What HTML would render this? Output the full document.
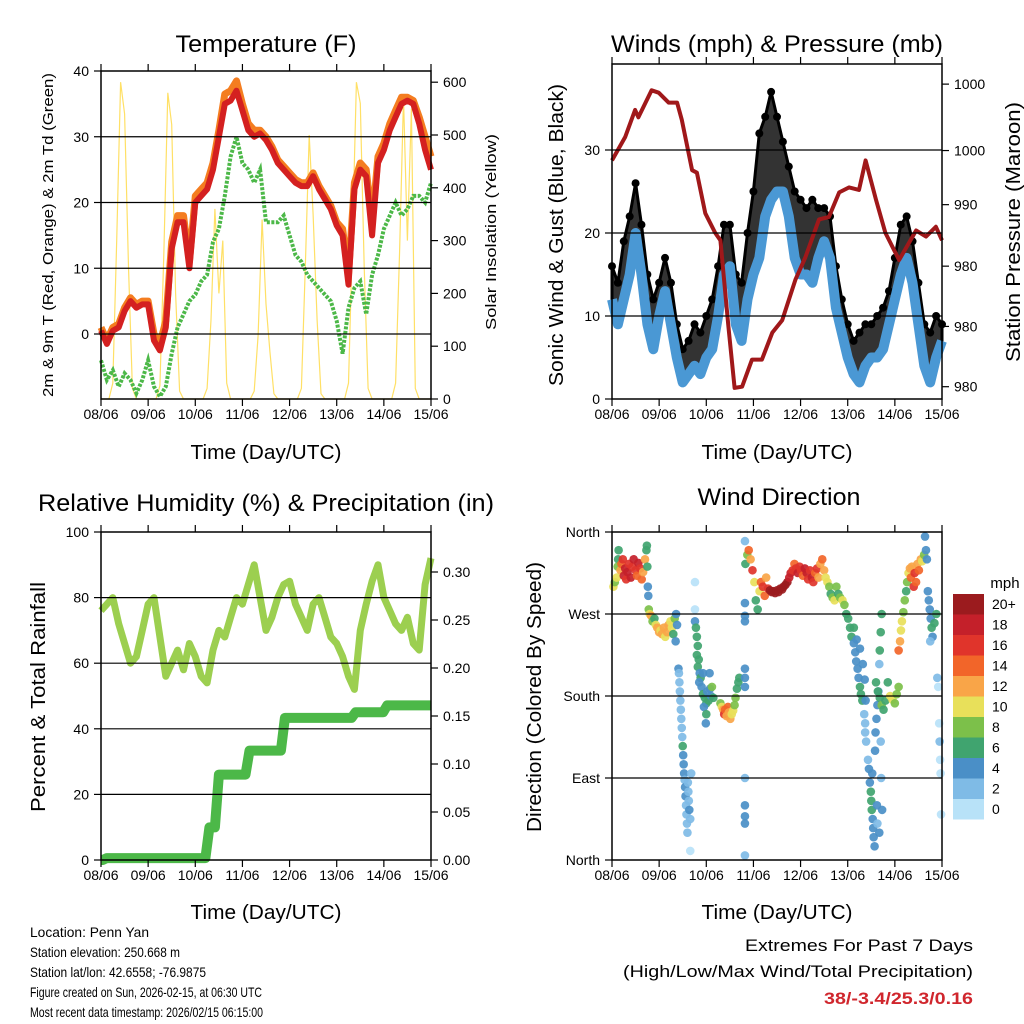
<!DOCTYPE html>
<html><head><meta charset="utf-8"><style>
html,body{margin:0;padding:0;background:#fff}
svg{display:block;font-family:"Liberation Sans",sans-serif}
</style></head><body>
<svg id="fig" width="1024" height="1024" viewBox="0 0 1024 1024" xmlns="http://www.w3.org/2000/svg">
<rect x="0" y="0" width="1024" height="1024" fill="#fff"/>
<g id="marks"></g>
<g id="frames"></g>
<text x="266" y="52" text-anchor="middle" font-size="24" textLength="181" lengthAdjust="spacingAndGlyphs">Temperature (F)</text>
<text x="777" y="52" text-anchor="middle" font-size="24" textLength="332" lengthAdjust="spacingAndGlyphs">Winds (mph) &amp; Pressure (mb)</text>
<text x="266" y="511" text-anchor="middle" font-size="24" textLength="456" lengthAdjust="spacingAndGlyphs">Relative Humidity (%) &amp; Precipitation (in)</text>
<text x="779" y="505" text-anchor="middle" font-size="24" textLength="163" lengthAdjust="spacingAndGlyphs">Wind Direction</text>
<text x="266" y="459" text-anchor="middle" font-size="20" textLength="151" lengthAdjust="spacingAndGlyphs">Time (Day/UTC)</text>
<text x="777" y="459" text-anchor="middle" font-size="20" textLength="151" lengthAdjust="spacingAndGlyphs">Time (Day/UTC)</text>
<text x="266" y="919" text-anchor="middle" font-size="20" textLength="151" lengthAdjust="spacingAndGlyphs">Time (Day/UTC)</text>
<text x="777" y="919" text-anchor="middle" font-size="20" textLength="151" lengthAdjust="spacingAndGlyphs">Time (Day/UTC)</text>
<text transform="translate(53,235) rotate(-90)" text-anchor="middle" font-size="15" textLength="324" lengthAdjust="spacingAndGlyphs">2m &amp; 9m T (Red, Orange) &amp; 2m Td (Green)</text>
<text transform="translate(496,232) rotate(-90)" text-anchor="middle" font-size="15" textLength="196" lengthAdjust="spacingAndGlyphs">Solar Insolation (Yellow)</text>
<text transform="translate(563,235) rotate(-90)" text-anchor="middle" font-size="20" textLength="302" lengthAdjust="spacingAndGlyphs">Sonic Wind &amp; Gust (Blue, Black)</text>
<text transform="translate(1020,232) rotate(-90)" text-anchor="middle" font-size="20" textLength="260" lengthAdjust="spacingAndGlyphs">Station Pressure (Maroon)</text>
<text transform="translate(45,697) rotate(-90)" text-anchor="middle" font-size="20" textLength="230" lengthAdjust="spacingAndGlyphs">Percent &amp; Total Rainfall</text>
<text transform="translate(541,697) rotate(-90)" text-anchor="middle" font-size="20" textLength="270" lengthAdjust="spacingAndGlyphs">Direction (Colored By Speed)</text>
<text x="1005" y="588" text-anchor="middle" font-size="15">mph</text>
<g font-size="14">
<text x="30" y="937" textLength="119" lengthAdjust="spacingAndGlyphs">Location: Penn Yan</text>
<text x="30" y="957" textLength="150" lengthAdjust="spacingAndGlyphs">Station elevation: 250.668 m</text>
<text x="30" y="977" textLength="176" lengthAdjust="spacingAndGlyphs">Station lat/lon: 42.6558; -76.9875</text>
<text x="30" y="997" textLength="232" lengthAdjust="spacingAndGlyphs">Figure created on Sun, 2026-02-15, at 06:30 UTC</text>
<text x="30" y="1017" textLength="233" lengthAdjust="spacingAndGlyphs">Most recent data timestamp: 2026/02/15 06:15:00</text>
</g>
<text x="973" y="951" text-anchor="end" font-size="17" textLength="228" lengthAdjust="spacingAndGlyphs">Extremes For Past 7 Days</text>
<text x="973" y="977" text-anchor="end" font-size="17" textLength="350" lengthAdjust="spacingAndGlyphs">(High/Low/Max Wind/Total Precipitation)</text>
<text x="973" y="1004" text-anchor="end" font-size="17" font-weight="bold" fill="#d0262d" textLength="149" lengthAdjust="spacingAndGlyphs">38/-3.4/25.3/0.16</text>
</svg>
<script>
// ---------- data ----------
const dayLabels = ["08/06","09/06","10/06","11/06","12/06","13/06","14/06","15/06"];
const tempTicks = [0,10,20,30,40];
const solarTicks = [0,100,200,300,400,500,600];
const windTicks = [0,10,20,30];
const pressTickVals = [978.5,983.4,988.3,993.3,997.7,1003.1];
const pressTickLabels = ["980","980","980","990","1000","1000"];
const rhTicks = [0,20,40,60,80,100];
const precipTicks = [0,0.05,0.10,0.15,0.20,0.25,0.30];
const precipTickLabels = ["0.00","0.05","0.10","0.15","0.20","0.25","0.30"];
const dirTickVals = [0,90,180,270,360];
const dirTickLabels = ["North","East","South","West","North"];
const speedBins = ["0","2","4","6","8","10","12","14","16","18","20+"];
const speedColors = ["#b8e2f8","#7fbbe6","#4a8fc7","#40a46f","#7cc04a","#e8e05a","#f9a548","#f26529","#e0342b","#c4202a","#9b1b1e"];

// 3-hourly series (day = index/8)
const tempRed = [0.5,-1.5,0.5,1,3.5,5,4,4.5,4.5,-1,-2.5,1,13,17,17,10,20,21,22,25,30,35,35.5,37,34,31,30,30.5,29.5,28,26,25,24,23,22.5,22.5,24,22,20.5,19,16.5,15,7.5,22,25,24,15,26,28,31,33,35,35.5,35,32,28,25];
const tempOrange = [1,-1,1,1.5,4,5.5,4.5,5,5,0,-1.5,2,14,18,18,11,21,22,23,26,31,36.5,37,38.5,35,32,31,31,30,28.5,26.5,25.5,24.5,23.5,23,23,24.5,22.5,21,19.5,17,16,9,23,26,25,17,27,29,32,34,36,36,35.5,33,30,27];
const tempDew = [-4,-7,-5.5,-8,-6,-7,-9,-7,-4,-8,-9.5,-8,-3,1,3,5,6,8,9,14,16,21,27,30,26,25,23,25,17,17,17,18,15,12,11,9,8,7,6,5,2,-3,4,7,8,3,9,12,16,18,20,18,19,21,21,20,23];
// 2-hourly solar insolation (day = index/12)
const solar = [0,0,0,30,300,600,540,250,20,0,0,0, 0,0,0,25,280,580,520,200,15,0,0,0, 0,0,0,20,150,360,200,300,30,0,0,0, 0,0,0,15,120,340,180,90,10,0,0,0, 0,0,0,20,250,500,350,150,10,0,0,0, 0,0,0,30,300,600,560,250,20,0,0,0, 0,0,0,30,280,570,300,550,20,0,0,0, 0];
const windSpeed = [12,9,12,15,20,15,9,6,10,13,9,5,2,3,4,3,5,6,10,15,16,9,7,12,15,17,22,24,25,25,22,17,15,15,14,17,19,17,11,8,5,3,2,4,5,5,6,9,12,15,17,14,9,4,2,5,7];
const windGust = [16,14,19,22,26,21,15,12,14,17,14,9,6,7,9,8,10,12,16,21,21,15,14,20,25,32,34,37,34,31,28,25,24,23,24,23,23,22,16,12,9,7,8,9,9,10,11,13,17,21,22,19,14,9,8,10,9];
const pressTimes = [0,0.28,0.49,0.56,0.84,0.99,1.2,1.38,1.48,1.7,1.8,1.98,2.19,2.3,2.47,2.6,2.76,2.97,3.18,3.4,3.61,3.89,4.1,4.39,4.6,4.82,5.03,5.24,5.38,5.6,5.8,6.09,6.45,6.66,6.87,7.0];
const pressVals = [996.9,998.8,1001.0,1000.4,1002.6,1002.4,1001.6,1001.6,1000.2,996.1,995.9,992.6,991.0,990.4,983.4,978.4,978.5,980.7,980.7,982.9,983.9,987.2,989.0,992.1,992.3,994.3,994.7,994.5,996.9,993.7,991.0,988.8,991.2,990.7,991.5,990.4];
const rh = [76,78,80,72,66,60,62,70,78,80,68,56,60,64,58,66,62,56,54,64,70,68,74,80,78,84,90,80,70,74,80,84,85,78,74,70,78,80,74,68,66,62,56,52,70,78,85,90,80,76,72,70,74,66,64,84,92];
const precipTimes = [0,0.12,2.3,2.5,3.15,3.9,5.4,6.07,7.0];
const precipVals = [0,0.002,0.034,0.089,0.114,0.148,0.154,0.161,0.161];

const dirTime = [0.03,0.06,0.1,0.13,0.14,0.12,0.18,0.2,0.23,0.25,0.28,0.3,0.33,0.36,0.4,0.43,0.46,0.5,0.53,0.56,0.6,0.63,0.66,0.7,0.73,0.74,0.75,0.76,0.77,
0.78,0.8,0.83,0.86,0.9,0.93,0.96,1.0,1.03,1.06,1.1,1.13,1.17,1.2,1.24,1.27,1.3,1.33,1.36,1.38,1.35,
1.41,1.42,1.43,1.44,1.45,1.46,1.47,1.48,1.49,1.5,1.51,1.52,1.53,1.54,1.55,1.56,1.57,1.58,1.59,1.6,1.61,1.62,1.63,1.64,1.66,1.68,1.66,1.76,1.76,1.76,
1.78,1.8,1.82,1.8,1.84,1.82,1.86,1.88,1.85,1.9,1.93,1.97,2.0,1.95,2.02,2.05,2.08,2.1,2.0,1.99,2.12,2.15,1.93,2.07,
2.3,2.33,2.36,2.38,2.4,2.43,2.46,2.48,2.51,2.54,2.57,2.6,2.62,2.65,2.68,2.7,
2.82,2.82,2.82,2.82,2.82,2.82,2.82,2.82,2.82,2.82,2.82,2.82,
2.83,2.87,2.90,2.94,2.98,3.02,3.05,3.09,3.13,3.16,3.20,3.24,3.27,3.31,3.35,3.39,3.42,3.46,3.50,3.53,3.57,3.61,3.64,3.68,3.72,3.76,3.79,3.83,3.87,3.90,3.94,3.98,4.01,4.05,4.09,4.13,4.16,4.20,4.24,4.27,4.31,4.35,4.38,4.42,4.46,4.50,4.53,4.57,4.61,4.64,4.68,4.72,
4.76,4.8,4.84,4.89,4.93,4.97,5.01,5.05,5.08,5.13,5.16,5.18,5.21,5.23,5.26,5.28,5.31,5.13,5.19,5.26,5.32,5.36,5.38,
5.35,5.37,5.37,5.39,5.43,5.45,5.47,5.49,5.5,5.51,5.53,5.54,5.55,5.57,5.52,5.58,5.59,5.61,5.63,5.65,5.62,5.63,5.67,5.68,5.7,5.72,5.67,5.7,5.71,5.73,
5.6,5.64,5.68,5.72,5.76,5.8,5.85,5.9,5.95,6.0,6.04,6.08,
6.08,6.11,6.13,6.15,6.18,6.21,6.24,6.26,6.29,6.32,6.34,6.36,6.4,6.42,6.45,6.48,6.51,6.55,6.58,6.62,
6.64,6.66,6.68,6.7,6.72,6.74,6.76,6.78,6.8,6.84,6.88,6.9,6.92,6.94,6.95,6.96,6.97,6.98,6.75];
const dirDeg = [300,305,310,330,340,322,318,325,330,312,320,308,316,325,310,322,330,318,312,326,320,308,316,330,340,345,322,300,290,
275,270,268,262,265,258,255,250,252,248,255,245,250,258,262,255,248,265,270,258,240,
210,205,195,185,175,165,155,145,135,125,115,105,95,88,80,70,60,50,40,30,85,75,65,55,45,95,10,305,275,262,
255,245,235,225,220,212,205,200,195,190,182,178,172,168,185,175,188,180,160,150,190,178,205,205,
172,168,165,160,165,158,168,162,155,160,164,170,178,188,195,200,
350,282,268,262,210,200,190,90,60,48,40,5,
325,335,340,330,318,305,285,275,295,305,300,290,310,298,296,294,295,293,296,294,298,297,300,302,305,310,315,318,325,320,315,322,318,312,320,315,308,318,310,305,315,320,310,325,330,318,310,305,300,292,288,285,
300,292,288,285,280,270,265,255,245,238,228,218,210,200,190,182,175,255,242,232,215,198,175,
160,150,140,130,110,100,85,75,65,55,45,35,25,15,95,120,140,155,170,185,60,40,30,230,250,270,215,130,90,55,
195,185,178,170,165,175,195,180,176,172,182,190,
230,240,252,262,272,285,295,305,315,320,310,322,300,315,305,325,318,330,328,335,
355,340,330,295,285,275,265,255,245,260,270,200,190,150,130,110,95,50,240];
const dirSpeed = [10,9,10,7,6,8,12,14,16,18,18,16,18,17,18,16,18,16,14,18,16,14,12,12,7,6,6,4,4,
8,10,12,8,6,10,12,12,10,12,12,11,12,12,11,10,7,8,4,4,4,
4,3,2,2,2,2,2,2,2,7,4,4,4,3,4,4,2,2,2,2,2,2,2,4,2,2,1,0,1,4,
6,7,6,6,6,6,5,6,4,5,7,6,6,5,4,6,4,5,6,4,8,7,4,4,
9,10,12,16,15,13,14,12,12,10,10,9,8,7,6,6,
3,4,4,4,4,4,4,3,4,4,4,3,
6,8,14,12,16,10,6,6,10,14,16,14,12,16,20,20,20,20,20,20,20,20,20,20,20,18,18,16,14,16,18,16,16,14,18,18,16,16,18,16,14,16,12,12,14,12,10,10,8,6,8,10,
8,6,8,10,8,6,6,6,6,4,4,4,4,4,6,7,6,6,4,4,4,4,4,
2,2,2,2,3,4,4,6,6,6,4,4,4,4,4,4,4,4,4,4,4,2,4,6,6,6,2,2,2,4,
6,7,6,8,7,6,6,10,10,8,8,8,
14,12,10,10,8,8,7,8,10,12,14,12,16,16,14,12,14,12,10,8,
4,4,4,4,4,4,4,6,4,6,6,2,0,1,2,1,0,0,2];

// ---------- helpers ----------
const NS = "http://www.w3.org/2000/svg";
const marks = document.getElementById('marks');
const frames = document.getElementById('frames');
function mk(parent, tag, attrs) {
  const e = document.createElementNS(NS, tag);
  for (const k in attrs) e.setAttribute(k, attrs[k]);
  parent.appendChild(e);
  return e;
}
const L = {x0:101,x1:431}, R = {x0:612,x1:942};
const xL = d => L.x0 + d*(L.x1-L.x0)/7;
const xR = d => R.x0 + d*(R.x1-R.x0)/7;
const yT = v => 334 - v*6.575;
const yS = s => 399 - s*0.528;
const yW = v => 399 - v*8.3;
const yP = p => 399 - (p-977.5)*12.3;
const yRH = v => 860 - v*3.28;
const yPr = p => 860 - p*960;
const yD = deg => 860 - deg*328/360;

function pts(xs, ys) { return xs.map((x,i)=>x.toFixed(1)+','+ys[i].toFixed(1)).join(' '); }

// ---------- panel frames, grids, ticks ----------
function panel(name, x0, x1, y0, y1, xfun, gridYs) {
  gridYs.forEach(y => {
    const g = mk(frames,'line',{x1:x0,x2:x1,y1:y,y2:y,stroke:'#000','stroke-width':1.2});
    
    
  });
  const r = mk(frames,'rect',{x:x0,y:y0,width:x1-x0,height:y1-y0,fill:'none',stroke:'#000','stroke-width':1.5});
  
  
  dayLabels.forEach((lab,i) => {
    const x = xfun(i);
    const t1 = mk(frames,'line',{x1:x,x2:x,y1:y1,y2:y1+7,stroke:'#000','stroke-width':1.2});
    
    
    const t2 = mk(frames,'line',{x1:x,x2:x,y1:y0,y2:y0-7,stroke:'#000','stroke-width':1.2});
    
    
    const tx = mk(frames,'text',{x:x,y:y1+20,'text-anchor':'middle','font-size':14});
    
    
    tx.textContent = lab;
  });
}
function yTicks(name, xEdge, side, vals, labels, yfun, len) {
  vals.forEach((v,i) => {
    const y = yfun(v);
    const dir = side==='left' ? -1 : 1;
    const t = mk(frames,'line',{x1:xEdge,x2:xEdge+dir*len,y1:y,y2:y,stroke:'#000','stroke-width':1.2});
    
    
    if (labels) {
      const tx = mk(frames,'text',{x:xEdge+dir*(len+5),y:y+5,'text-anchor':side==='left'?'end':'start','font-size':14});
      
      
      tx.textContent = labels[i];
    }
  });
}

// ---------- Temperature panel ----------
const solarLine = mk(marks,'polyline',{points:pts(solar.map((_,i)=>xL(i/12)), solar.map(yS)),fill:'none',stroke:'#ffe066','stroke-width':1.2});


const tx3 = tempRed.map((_,i)=>xL(i/8));
const orangeLine = mk(marks,'polyline',{points:pts(tx3,tempOrange.map(yT)),fill:'none',stroke:'#f47d20','stroke-width':7,'stroke-linejoin':'round'});


const redLine = mk(marks,'polyline',{points:pts(tx3,tempRed.map(yT)),fill:'none',stroke:'#d42020','stroke-width':6,'stroke-linejoin':'round'});


const dewLine = mk(marks,'polyline',{points:pts(tx3,tempDew.map(yT)),fill:'none',stroke:'#4cb848','stroke-width':4,'stroke-dasharray':'3 1.5'});


panel('temp',101,431,71,399,xL,[yT(0),yT(10),yT(20),yT(30)]);
yTicks('temp-y',101,'left',tempTicks,tempTicks.map(String),yT,7);
yTicks('solar-y',431,'right',solarTicks,solarTicks.map(String),yS,7);

// ---------- Winds panel ----------
const wx = windSpeed.map((_,i)=>xR(i/8));
const gustArea = mk(marks,'polygon',{points:pts(wx.concat(wx.slice().reverse()), windGust.map(yW).concat(windSpeed.map(yW).reverse())),fill:'#000','fill-opacity':0.8,stroke:'#000','stroke-width':3,'stroke-linejoin':'round'});


windGust.forEach((g,i)=>{
  const c = mk(marks,'circle',{cx:xR(i/8),cy:yW(g),r:4,fill:'#000'});
  
  
});
const windLine = mk(marks,'polyline',{points:pts(wx,windSpeed.map(yW)),fill:'none',stroke:'#4a98d4','stroke-width':10,'stroke-linejoin':'round'});


const pressLine = mk(marks,'polyline',{points:pts(pressTimes.map(xR),pressVals.map(yP)),fill:'none',stroke:'#a0181a','stroke-width':4,'stroke-linejoin':'round'});


panel('wind',612,942,64,399,xR,[yW(10),yW(20),yW(30)]);
yTicks('wind-y',612,'left',windTicks,windTicks.map(String),yW,7);
yTicks('pressure-y',942,'right',pressTickVals,pressTickLabels,yP,7);

// ---------- RH panel ----------
const rhLine = mk(marks,'polyline',{points:pts(rh.map((_,i)=>xL(i/8)),rh.map(yRH)),fill:'none',stroke:'#9ccf50','stroke-width':7,'stroke-linejoin':'round'});


let stepPts = [];
precipTimes.forEach((t,i)=>{
  if (i>0) stepPts.push([xL(t)-4, yPr(precipVals[i-1])]);
  stepPts.push([xL(t), yPr(precipVals[i])]);
});
const prLine = mk(marks,'polyline',{points:stepPts.map(p=>p[0].toFixed(1)+','+p[1].toFixed(1)).join(' '),fill:'none',stroke:'#4cb848','stroke-width':10,'stroke-linejoin':'round'});


panel('rh',101,431,532,860,xL,[yRH(20),yRH(40),yRH(60),yRH(80)]);
yTicks('rh-y',101,'left',rhTicks,rhTicks.map(String),yRH,7);
yTicks('precip-y',431,'right',precipTicks,precipTickLabels,yPr,7);

// ---------- Wind direction panel ----------
function binIndex(s){ return Math.max(0, Math.min(10, Math.floor(s/2))); }
dirTime.forEach((t,i)=>{
  const c = mk(marks,'circle',{cx:xR(t),cy:yD(dirDeg[i]),r:4.3,fill:speedColors[binIndex(dirSpeed[i])],'fill-opacity':0.92});
  
  
});
panel('dir',612,942,532,860,xR,[yD(90),yD(180),yD(270)]);
yTicks('dir-y',612,'left',dirTickVals,dirTickLabels,yD,7);
speedBins.forEach((lab,i)=>{
  const y = 799 - i*20.5;
  const b = mk(frames,'rect',{x:953,y:y,width:31,height:20.5,fill:speedColors[i]});
  
  
  const tx = mk(frames,'text',{x:992,y:y+15,'font-size':14});
  
  
  tx.textContent = lab;
});
</script>
</body></html>
